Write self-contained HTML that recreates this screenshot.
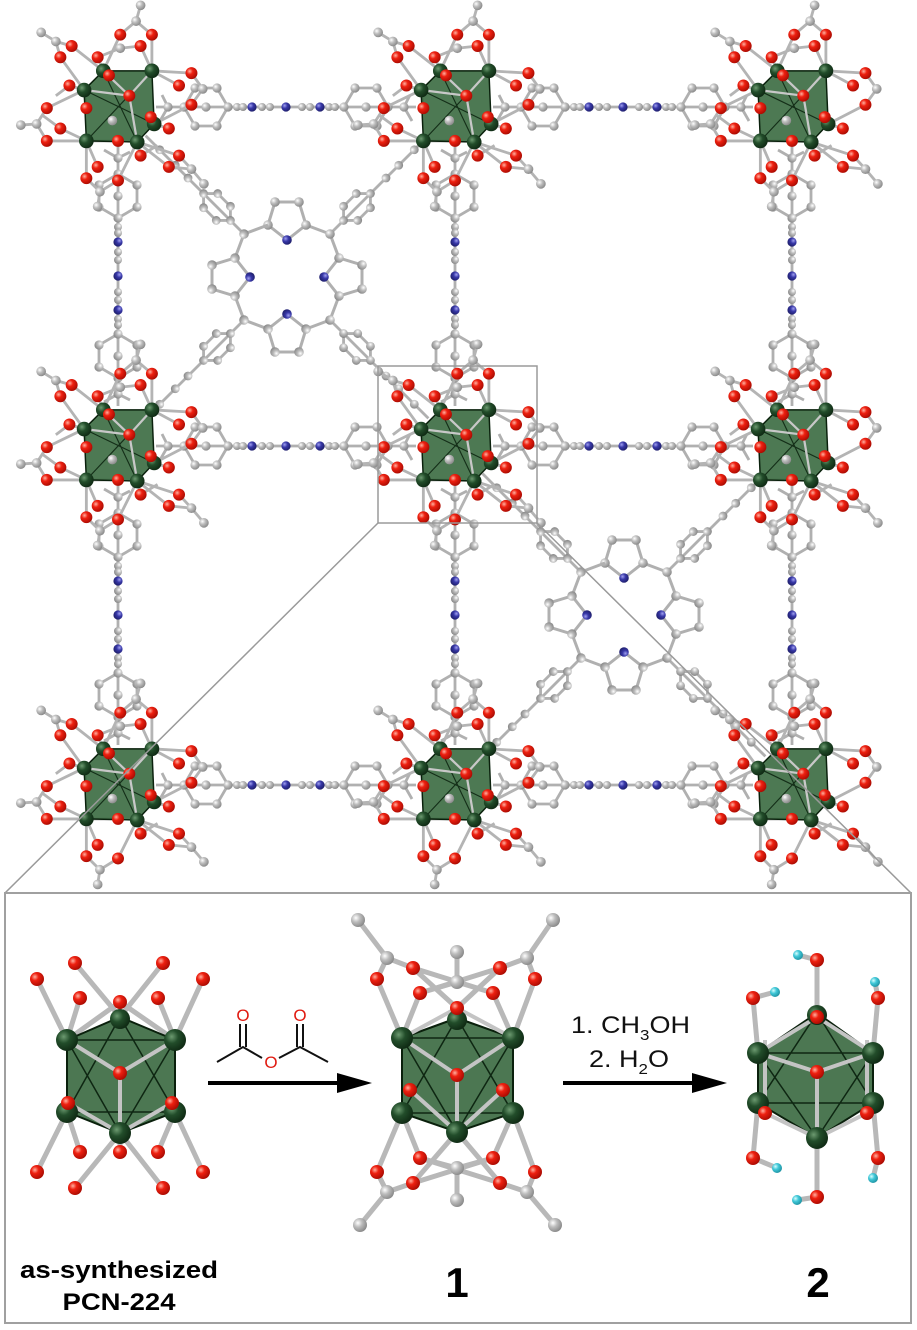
<!DOCTYPE html>
<html><head><meta charset="utf-8"><style>
html,body{margin:0;padding:0;background:#fff;}
svg{display:block;}
</style></head><body>
<svg width="917" height="1330" viewBox="0 0 917 1330" xmlns="http://www.w3.org/2000/svg">
<defs>
<radialGradient id="gr" cx=".35" cy=".35" r=".75"><stop offset="0" stop-color="#ffb0a0"/><stop offset=".35" stop-color="#ee2010"/><stop offset="1" stop-color="#a00800"/></radialGradient>
<radialGradient id="gg" cx=".35" cy=".35" r=".75"><stop offset="0" stop-color="#ffffff"/><stop offset=".4" stop-color="#bdbdbd"/><stop offset="1" stop-color="#808080"/></radialGradient>
<radialGradient id="gd" cx=".35" cy=".35" r=".75"><stop offset="0" stop-color="#6c9a70"/><stop offset=".4" stop-color="#224d2a"/><stop offset="1" stop-color="#0c2410"/></radialGradient>
<radialGradient id="gb" cx=".35" cy=".35" r=".75"><stop offset="0" stop-color="#a0a0f0"/><stop offset=".4" stop-color="#3838a8"/><stop offset="1" stop-color="#1a1a60"/></radialGradient>
<radialGradient id="gc2" cx=".35" cy=".35" r=".75"><stop offset="0" stop-color="#d8ffff"/><stop offset=".4" stop-color="#40c8d8"/><stop offset="1" stop-color="#1a8a9a"/></radialGradient>

<g id="gc">
 <path d="M-13,-32L2,-64M30,-32L30,-64M-13,-32L-41,-54M-13,-32L-18,-44M30,-32L20,-54M-30,-15L-51,-44M30,-32L65,-30M30,-32L54,-19M-30,-15L-43,-19M-30,-15L-63,1M-28,30L-51,19M-28,30L-63,30M-30,-15L-28,1M32,15L65,-2M32,15L45,19M32,15L29,9M-28,30L0,30M17,31L20,43M17,31L54,43M17,31L45,53M-28,30L-18,53M-28,30L-28,63M17,31L0,65
 M2,-64L16,-76L30,-64M16,-76L20,-90M-41,-54L-55,-58L-51,-44M-55,-58L-68,-66M-63,1L-72,15L-63,30M-72,15L-86,16M65,-30L75,-16L65,-2M54,43L65,55L45,53M65,55L76,68M-28,63L-16,75L0,65M-16,75L-18,88M-18,-44L2,-52L20,-54M-51,19L-66,8M20,43L35,34M-43,-19L-55,-10" stroke="#b4b4b4" stroke-width="2.5" fill="none"/>
 <polygon points="-30,-15 -13,-32 30,-32 32,15 17,31 -28,30" fill="#3a6a40" fill-opacity=".9" stroke="#0a200c" stroke-width="1.3"/>
 <path d="M-13,-32L17,31M30,-32L-28,30M-30,-15L32,15" stroke="#142e18" stroke-width="1" fill="none"/>
 <path d="M30,-32L10,-10L-30,-15M10,-10L17,31M-13,-32L10,-10" stroke="#c8c8c8" stroke-width="2" fill="none"/>
 <g fill="url(#gg)">
  <circle cx="16" cy="-76" r="4.3"/><circle cx="20" cy="-90" r="4.3"/><circle cx="-55" cy="-58" r="4.3"/><circle cx="-68" cy="-66" r="4.3"/><circle cx="-72" cy="15" r="4.3"/><circle cx="-86" cy="16" r="4.3"/><circle cx="75" cy="-16" r="4.3"/><circle cx="65" cy="55" r="4.3"/><circle cx="76" cy="68" r="4.3"/><circle cx="-16" cy="75" r="4.3"/><circle cx="-18" cy="88" r="4.3"/><circle cx="2" cy="-52" r="4.3"/><circle cx="-5" cy="12" r="4.3"/>
 </g>
 <g fill="url(#gd)">
  <circle cx="-30" cy="-15" r="6.5"/><circle cx="-13" cy="-32" r="6.5"/><circle cx="30" cy="-32" r="6.5"/><circle cx="32" cy="15" r="6.5"/><circle cx="17" cy="31" r="6.5"/><circle cx="-28" cy="30" r="6.5"/>
 </g>
 <g fill="url(#gr)">
  <circle cx="2" cy="-64" r="5.3"/><circle cx="30" cy="-64" r="5.3"/><circle cx="-41" cy="-54" r="5.3"/><circle cx="-18" cy="-44" r="5.3"/><circle cx="20" cy="-54" r="5.3"/><circle cx="-51" cy="-44" r="5.3"/><circle cx="65" cy="-30" r="5.3"/><circle cx="54" cy="-19" r="5.3"/><circle cx="-43" cy="-19" r="5.3"/><circle cx="-63" cy="1" r="5.3"/><circle cx="-51" cy="19" r="5.3"/><circle cx="-63" cy="30" r="5.3"/><circle cx="-28" cy="1" r="5.3"/><circle cx="10" cy="-10" r="5.3"/><circle cx="-8" cy="-28" r="5.3"/><circle cx="65" cy="-2" r="5.3"/><circle cx="45" cy="19" r="5.3"/><circle cx="29" cy="9" r="5.3"/><circle cx="0" cy="30" r="5.3"/><circle cx="20" cy="43" r="5.3"/><circle cx="54" cy="43" r="5.3"/><circle cx="45" cy="53" r="5.3"/><circle cx="-18" cy="53" r="5.3"/><circle cx="-28" cy="63" r="5.3"/><circle cx="0" cy="65" r="5.3"/>
 </g>
</g>

<g id="lk">
 <path d="M-130,0L130,0M-102,0L-91,-19L-69,-19L-58,0L-69,19L-91,19Z M102,0L91,-19L69,-19L58,0L69,19L91,19Z M-102,0L-118,0L-124,-12M-118,0L-126,14M102,0L118,0L124,-12M118,0L126,14" stroke="#b0b0b0" stroke-width="2.8" fill="none"/>
 <g fill="url(#gg)">
  <circle cx="-102" cy="0" r="4.6"/><circle cx="-91" cy="-19" r="4.6"/><circle cx="-69" cy="-19" r="4.6"/><circle cx="-58" cy="0" r="4.6"/><circle cx="-69" cy="19" r="4.6"/><circle cx="-91" cy="19" r="4.6"/><circle cx="-80" cy="0" r="4.6"/><circle cx="-118" cy="0" r="4.6"/>
  <circle cx="102" cy="0" r="4.6"/><circle cx="91" cy="-19" r="4.6"/><circle cx="69" cy="-19" r="4.6"/><circle cx="58" cy="0" r="4.6"/><circle cx="69" cy="19" r="4.6"/><circle cx="91" cy="19" r="4.6"/><circle cx="80" cy="0" r="4.6"/><circle cx="118" cy="0" r="4.6"/>
  <circle cx="-49" cy="0" r="4"/><circle cx="-43" cy="0" r="4"/><circle cx="-24" cy="0" r="4"/><circle cx="-16" cy="0" r="4"/><circle cx="16" cy="0" r="4"/><circle cx="24" cy="0" r="4"/><circle cx="43" cy="0" r="4"/><circle cx="49" cy="0" r="4"/>
 </g>
 <g fill="url(#gb)"><circle cx="-34" cy="0" r="4.6"/><circle cx="0" cy="0" r="4.6"/><circle cx="34" cy="0" r="4.6"/></g>
</g>

<g id="py">
 <path d="M0,-37L19,-52L12,-75L-12,-75L-19,-52Z M19,-52L43,-43L52,-19" stroke="#b0b0b0" stroke-width="3" fill="none"/>
 <g fill="url(#gg)"><circle cx="12" cy="-75" r="4.8"/><circle cx="-12" cy="-75" r="4.8"/><circle cx="19" cy="-52" r="4.8"/><circle cx="-19" cy="-52" r="4.8"/><circle cx="43" cy="-43" r="4.8"/></g>
 <circle cx="0" cy="-37" r="4.8" fill="url(#gb)"/>
</g>
<g id="arm">
 <path d="M61,0L200,0M80,0L90,-10L108,-10L118,0L108,10L90,10Z" stroke="#b0b0b0" stroke-width="2.8" fill="none"/>
 <g fill="url(#gg)"><circle cx="80" cy="0" r="4.4"/><circle cx="90" cy="-10" r="4.4"/><circle cx="108" cy="-10" r="4.4"/><circle cx="118" cy="0" r="4.4"/><circle cx="108" cy="10" r="4.4"/><circle cx="90" cy="10" r="4.4"/><circle cx="140" cy="0" r="4.4"/><circle cx="158" cy="0" r="4.4"/><circle cx="180" cy="0" r="4.4"/></g>
</g>
<g id="por">
 <use href="#arm" transform="rotate(-45)"/><use href="#arm" transform="rotate(45)"/><use href="#arm" transform="rotate(135)"/><use href="#arm" transform="rotate(-135)"/>
 <use href="#py"/><use href="#py" transform="rotate(90)"/><use href="#py" transform="rotate(180)"/><use href="#py" transform="rotate(270)"/>
</g>
</defs>

<use href="#lk" transform="translate(286,107)"/><use href="#lk" transform="translate(623,107)"/>
<use href="#lk" transform="translate(286,446)"/><use href="#lk" transform="translate(623,446)"/>
<use href="#lk" transform="translate(286,785)"/><use href="#lk" transform="translate(623,785)"/>
<use href="#lk" transform="translate(118,276) rotate(90)"/><use href="#lk" transform="translate(118,615) rotate(90)"/>
<use href="#lk" transform="translate(455,276) rotate(90)"/><use href="#lk" transform="translate(455,615) rotate(90)"/>
<use href="#lk" transform="translate(792,276) rotate(90)"/><use href="#lk" transform="translate(792,615) rotate(90)"/>
<use href="#por" transform="translate(287,277)"/>
<use href="#por" transform="translate(624,615)"/>
<use href="#gc" transform="translate(118,107) scale(1.13)"/><use href="#gc" transform="translate(455,107) scale(1.13)"/><use href="#gc" transform="translate(792,107) scale(1.13)"/>
<use href="#gc" transform="translate(118,446) scale(1.13)"/><use href="#gc" transform="translate(455,446) scale(1.13)"/><use href="#gc" transform="translate(792,446) scale(1.13)"/>
<use href="#gc" transform="translate(118,785) scale(1.13)"/><use href="#gc" transform="translate(455,785) scale(1.13)"/><use href="#gc" transform="translate(792,785) scale(1.13)"/>

<rect x="378" y="366" width="159" height="157" fill="none" stroke="#9a9a9a" stroke-width="1.5"/>
<path d="M378,523L5,893M537,523L911,893" stroke="#9a9a9a" stroke-width="1.5" fill="none"/>
<rect x="5" y="893" width="906" height="430" fill="#fff" stroke="#a0a0a0" stroke-width="2"/>

<g>
 <path d="M75,963L120,1017M163,963L120,1017M37,979L67,1040M80,998L67,1040M203,979L175,1040M158,998L175,1040M120,1002L67,1040M120,1002L175,1040
 M37,1172L67,1112M80,1152L67,1112M75,1188L120,1133M163,1188L120,1133M203,1172L175,1112M158,1152L175,1112M120,1152L120,1133" stroke="#b8b8b8" stroke-width="5" fill="none"/>
 <polygon points="67,1040 120,1017 175,1040 175,1112 120,1133 67,1112" fill="#3d6b43" fill-opacity=".92" stroke="#0a200c" stroke-width="2"/>
 <path d="M67,1040L175,1040M67,1040L120,1133M175,1040L120,1133M67,1112L120,1017M175,1112L120,1017M67,1112L175,1112" stroke="#0e2612" stroke-width="1.5" fill="none"/>
 <path d="M67,1040L120,1073L175,1040M120,1073L120,1133M68,1103L120,1133L172,1103M120,1002L120,1017" stroke="#c4c4c4" stroke-width="4" fill="none"/>
 <g fill="url(#gd)"><circle cx="67" cy="1040" r="11"/><circle cx="175" cy="1040" r="11"/><circle cx="67" cy="1112" r="11"/><circle cx="175" cy="1112" r="11"/><circle cx="120" cy="1133" r="11"/><circle cx="120" cy="1019" r="10"/></g>
 <g fill="url(#gr)"><circle cx="120" cy="1002" r="7"/><circle cx="120" cy="1073" r="7"/><circle cx="68" cy="1103" r="7"/><circle cx="172" cy="1103" r="7"/><circle cx="75" cy="963" r="7"/><circle cx="163" cy="963" r="7"/><circle cx="37" cy="979" r="7"/><circle cx="203" cy="979" r="7"/><circle cx="80" cy="998" r="7"/><circle cx="158" cy="998" r="7"/><circle cx="80" cy="1152" r="7"/><circle cx="158" cy="1152" r="7"/><circle cx="120" cy="1152" r="7"/><circle cx="37" cy="1172" r="7"/><circle cx="203" cy="1172" r="7"/><circle cx="75" cy="1188" r="7"/><circle cx="163" cy="1188" r="7"/></g>
</g>

<g>
 <path d="M358,920L387,958L377,979L402,1038M387,958L413,968L493,993M553,920L527,958L535,979L513,1038M527,958L500,968L420,993M457,952L457,982L420,993L402,1038M457,982L493,993L513,1038M457,1008L413,968M457,1008L500,968
 M360,1225L387,1192L377,1172L402,1113M387,1192L413,1183L493,1158M555,1225L527,1192L535,1172L513,1113M527,1192L500,1183L420,1158M457,1200L457,1168L420,1158L402,1113M457,1168L493,1158L513,1113M413,1183L457,1132L500,1183" stroke="#b8b8b8" stroke-width="5" fill="none"/>
 <polygon points="402,1038 457,1018 513,1038 513,1113 457,1132 402,1113" fill="#3d6b43" fill-opacity=".92" stroke="#0a200c" stroke-width="2"/>
 <path d="M402,1038L513,1038M402,1038L457,1132M513,1038L457,1132M402,1113L457,1018M513,1113L457,1018M402,1113L513,1113" stroke="#0e2612" stroke-width="1.5" fill="none"/>
 <path d="M402,1038L457,1075L513,1038M457,1075L457,1132M410,1090L457,1132L503,1090M457,1008L402,1038M457,1008L513,1038" stroke="#c4c4c4" stroke-width="4" fill="none"/>
 <g fill="url(#gd)"><circle cx="402" cy="1038" r="11"/><circle cx="513" cy="1038" r="11"/><circle cx="402" cy="1113" r="11"/><circle cx="513" cy="1113" r="11"/><circle cx="457" cy="1132" r="11"/><circle cx="457" cy="1020" r="10"/></g>
 <g fill="url(#gg)"><circle cx="358" cy="920" r="7"/><circle cx="553" cy="920" r="7"/><circle cx="387" cy="958" r="7"/><circle cx="527" cy="958" r="7"/><circle cx="457" cy="952" r="7"/><circle cx="457" cy="982" r="7"/><circle cx="360" cy="1225" r="7"/><circle cx="555" cy="1225" r="7"/><circle cx="387" cy="1192" r="7"/><circle cx="527" cy="1192" r="7"/><circle cx="457" cy="1200" r="7"/><circle cx="457" cy="1168" r="7"/></g>
 <g fill="url(#gr)"><circle cx="457" cy="1008" r="7"/><circle cx="457" cy="1075" r="7"/><circle cx="410" cy="1090" r="7"/><circle cx="503" cy="1090" r="7"/><circle cx="420" cy="993" r="7"/><circle cx="493" cy="993" r="7"/><circle cx="413" cy="968" r="7"/><circle cx="500" cy="968" r="7"/><circle cx="377" cy="979" r="7"/><circle cx="535" cy="979" r="7"/><circle cx="420" cy="1158" r="7"/><circle cx="493" cy="1158" r="7"/><circle cx="377" cy="1172" r="7"/><circle cx="535" cy="1172" r="7"/><circle cx="413" cy="1183" r="7"/><circle cx="500" cy="1183" r="7"/></g>
</g>

<g>
 <path d="M817,960L817,1017M753,998L758,1053M878,998L873,1053M753,1158L758,1103M878,1158L873,1103M817,1197L817,1138M817,960L798,955M753,998L775,992M878,998L875,982M753,1158L777,1168M878,1158L873,1178M817,1197L797,1200" stroke="#b8b8b8" stroke-width="5" fill="none"/>
 <polygon points="758,1053 817,1013 873,1053 873,1103 817,1138 758,1103" fill="#3d6b43" fill-opacity=".92" stroke="#0a200c" stroke-width="2"/>
 <path d="M758,1053L873,1053M758,1053L817,1138M873,1053L817,1138M758,1103L817,1013M873,1103L817,1013M758,1103L873,1103" stroke="#0e2612" stroke-width="1.5" fill="none"/>
 <path d="M758,1053L817,1072L873,1053M817,1072L817,1138M765,1113L817,1138L867,1113M817,1017L758,1053M817,1017L873,1053M765,1113L765,1040M867,1113L867,1040" stroke="#c4c4c4" stroke-width="4" fill="none"/>
 <g fill="url(#gd)"><circle cx="758" cy="1053" r="11"/><circle cx="873" cy="1053" r="11"/><circle cx="758" cy="1103" r="11"/><circle cx="873" cy="1103" r="11"/><circle cx="817" cy="1138" r="11"/><circle cx="817" cy="1015" r="10"/></g>
 <g fill="url(#gc2)"><circle cx="798" cy="955" r="5"/><circle cx="775" cy="992" r="5"/><circle cx="875" cy="982" r="5"/><circle cx="777" cy="1168" r="5"/><circle cx="873" cy="1178" r="5"/><circle cx="797" cy="1200" r="5"/></g>
 <g fill="url(#gr)"><circle cx="817" cy="1017" r="7"/><circle cx="817" cy="1072" r="7"/><circle cx="765" cy="1113" r="7"/><circle cx="867" cy="1113" r="7"/><circle cx="817" cy="960" r="7"/><circle cx="753" cy="998" r="7"/><circle cx="878" cy="998" r="7"/><circle cx="753" cy="1158" r="7"/><circle cx="878" cy="1158" r="7"/><circle cx="817" cy="1197" r="7"/></g>
</g>

<path d="M217,1062L243,1047L262,1058M279,1058L300,1047L328,1062M240,1047L240,1024M246,1047L246,1024M297,1047L297,1024M303,1047L303,1024" stroke="#111" stroke-width="2" fill="none"/>
<g font-family="Liberation Sans, sans-serif" font-size="17" fill="#e01a10" text-anchor="middle">
 <text x="243" y="1021">O</text><text x="300" y="1021">O</text><text x="271" y="1068">O</text>
</g>
<path d="M208,1083L345,1083M563,1083L700,1083" stroke="#000" stroke-width="4"/>
<polygon points="372,1083 337,1073 337,1093" fill="#000"/>
<polygon points="727,1083 692,1073 692,1093" fill="#000"/>
<g font-family="Liberation Sans, Arial, sans-serif" fill="#111">
 <text x="571" y="1033" font-size="24" textLength="119" lengthAdjust="spacingAndGlyphs">1. CH<tspan font-size="15" dy="7">3</tspan><tspan dy="-7">OH</tspan></text>
 <text x="589" y="1067" font-size="24" textLength="80" lengthAdjust="spacingAndGlyphs">2. H<tspan font-size="15" dy="7">2</tspan><tspan dy="-7">O</tspan></text>
</g>
<g font-family="Liberation Sans, Arial, sans-serif" font-weight="bold" fill="#000" text-anchor="middle">
 <text x="119" y="1278" font-size="24" textLength="198" lengthAdjust="spacingAndGlyphs">as-synthesized</text>
 <text x="119" y="1310" font-size="24" textLength="113" lengthAdjust="spacingAndGlyphs">PCN-224</text>
 <text x="457" y="1297" font-size="42">1</text>
 <text x="818" y="1297" font-size="42">2</text>
</g>
</svg>
</body></html>
